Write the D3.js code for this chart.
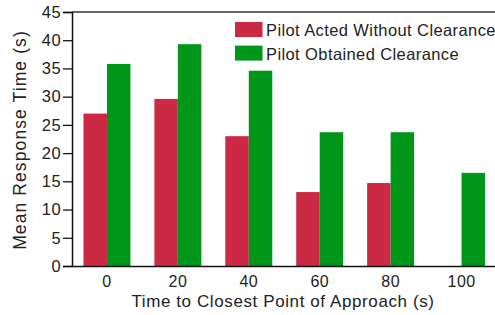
<!DOCTYPE html>
<html><head><meta charset="utf-8">
<script src="https://cdn.jsdelivr.net/npm/d3@7/dist/d3.min.js"></script>
<style>body{margin:0;background:#fff;} text{font-family:"Liberation Sans",Arial,Helvetica,sans-serif;fill:#222;}</style>
</head><body><svg id="c" width="495" height="315"></svg>
<script>
const categories = ["0","20","40","60","80","100"];
const seriesNames = ["Pilot Acted Without Clearance","Pilot Obtained Clearance"];
const actedWithout = [27, 29.6, 23, 13.1, 14.7, null];
const obtained = [35.8, 39.3, 34.6, 23.7, 23.7, 16.5];
const yTicks = [0,5,10,15,20,25,30,35,40,45];
const colors = ["#cc2944","#009619"];

const svg = d3.select("#c");
const L = 72, R = 497, T = 12, B = 266;
const x0 = d3.scaleBand().domain(categories).range([L - 0.5, R]).paddingInner(0).paddingOuter(0);
const x1 = d3.scaleBand().domain(seriesNames).range([0, x0.bandwidth()]).paddingInner(0).paddingOuter(0.51);
const y = d3.scaleLinear().domain([0,45]).range([B, T]);

const seriesData = [actedWithout, obtained];
seriesNames.forEach((s, si) => {
  svg.append("g").selectAll("rect").data(categories.map((c,i)=>({c, v: seriesData[si][i]})).filter(d=>d.v!=null))
    .join("rect")
    .attr("x", d => x0(d.c) + x1(s))
    .attr("width", x1.bandwidth())
    .attr("y", d => y(d.v))
    .attr("height", d => y(0) - y(d.v))
    .attr("fill", colors[si]);
});

// top border
svg.append("line").attr("x1", L).attr("x2", 495).attr("y1", T).attr("y2", T).attr("stroke","#333").attr("stroke-width",1.5);

const yAxis = svg.append("g").attr("transform", `translate(${L},0)`)
  .call(d3.axisLeft(y).tickValues(yTicks).tickSize(9).tickPadding(2));
yAxis.select(".domain").attr("stroke","#111").attr("stroke-width",1.5);
yAxis.selectAll(".tick line").attr("stroke","#111").attr("stroke-width",1.3);
yAxis.selectAll("text").style("font-size","16.5px").style("letter-spacing","0.4px").attr("fill","#222");

const xAxis = svg.append("g").attr("transform", `translate(0,${B})`)
  .call(d3.axisBottom(x0).tickSize(0).tickPadding(10));
xAxis.select(".domain").attr("d", `M${L},0.5H495`).attr("stroke","#111").attr("stroke-width",1.5);
xAxis.selectAll("text").style("font-size","16px").style("letter-spacing","0.4px").attr("fill","#222");

svg.append("text").attr("x", 283).attr("y", 307).attr("text-anchor","middle")
  .style("font-size","17px").style("letter-spacing","0.6px").text("Time to Closest Point of Approach (s)");
svg.append("text").attr("transform","translate(26,140) rotate(-90)").attr("text-anchor","middle")
  .style("font-size","17.5px").style("letter-spacing","1.1px").text("Mean Response Time (s)");

const leg = svg.append("g");
seriesNames.forEach((s, i) => {
  const g = leg.append("g").attr("transform", `translate(235,${22 + i*23.6})`);
  g.append("rect").attr("width",27.5).attr("height",15).attr("fill",colors[i]);
  g.append("text").attr("x",31).attr("y",14).style("font-size","16.5px").style("letter-spacing","0.4px").text(s);
});
</script></body></html>
